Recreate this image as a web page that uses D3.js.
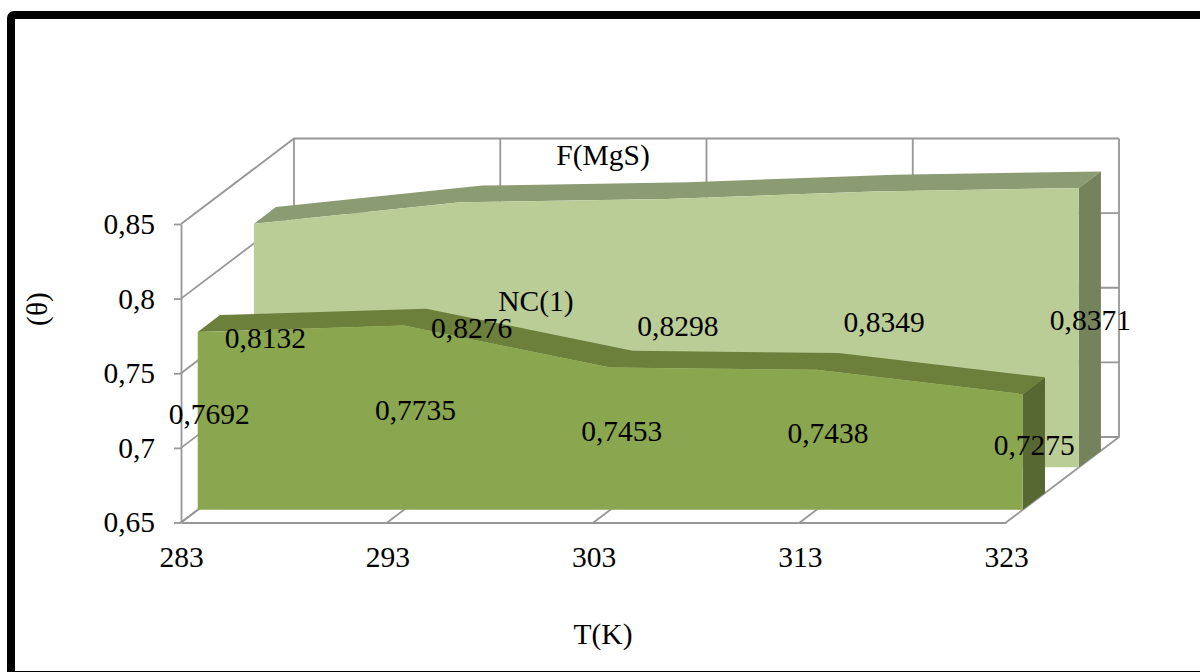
<!DOCTYPE html>
<html>
<head>
<meta charset="utf-8">
<script src="https://d3js.org/d3.v7.min.js"></script>
<style>
html, body { margin: 0; padding: 0; background: #fff; overflow: hidden; }
text { font-family: "Liberation Serif", serif; font-size: 29.5px; fill: #000; }
</style>
</head>
<body>
<div id="chart"></div>
<script>
var categories = [283, 293, 303, 313, 323];
var yTicks = [0.65, 0.7, 0.75, 0.8, 0.85];
var fmgs = [0.8132, 0.8276, 0.8298, 0.8349, 0.8371];
var nc1 = [0.7692, 0.7735, 0.7453, 0.7438, 0.7275];
var seriesNames = ["F(MgS)", "NC(1)"];
var xTitle = "T(K)";
var yTitle = "(θ)";

var w = 1200;
var h = 672;

// front plane of the 3d box, back wall is shifted by depthX / depthY
var x0 = 181;
var y0 = 522.5;
var depthX = 113;
var depthY = -85.5;
var gridColor = "#979797";

var xscale = d3.scalePoint()
    .domain(categories)
    .range([0, 825]);

var yscale = d3.scaleLinear()
    .domain([0.65, 0.85])
    .range([0, 298.5]);

function comma(v) {
    return String(v).replace(".", ",");
}

// category, value and depth (0 front, 1 back) to screen
function project(cat, v, depth) {
    return [x0 + xscale(cat) + depth * depthX, y0 - yscale(v) + depth * depthY];
}

function pts(list) {
    return list.map(function(p) { return p.join(","); }).join(" ");
}

var svg = d3.select("#chart")
    .append("svg")
    .attr("width", w)
    .attr("height", h);

svg.append("rect")
    .attr("x", 11)
    .attr("y", 15)
    .attr("width", 1300)
    .attr("height", 660)
    .attr("rx", 3)
    .attr("fill", "#fff")
    .attr("stroke", "#000")
    .attr("stroke-width", 8);

//////////// WALLS /////////////
var grid = svg.append("g")
    .attr("fill", "none")
    .attr("stroke", gridColor)
    .attr("stroke-width", 1.8);

var lastCat = categories[categories.length - 1];

yTicks.forEach(function(t) {
    grid.append("polyline")
        .attr("points", pts([project(categories[0], t, 0), project(categories[0], t, 1), project(lastCat, t, 1)]));
});

categories.forEach(function(c) {
    grid.append("polyline")
        .attr("points", pts([project(c, 0.65, 0), project(c, 0.65, 1), project(c, 0.85, 1)]));
});

//////////// AXES /////////////
var yaxis = d3.axisLeft(d3.scaleLinear().domain(yscale.domain()).range([y0, y0 - 298.5]))
    .tickValues(yTicks)
    .tickFormat(comma)
    .tickSize(7)
    .tickSizeOuter(0)
    .tickPadding(19);

var xaxis = d3.axisBottom(xscale)
    .tickSize(0)
    .tickSizeOuter(0)
    .tickPadding(24);

function styleAxis(g) {
    g.selectAll("path, line").attr("stroke", gridColor).attr("stroke-width", 1.8);
    g.selectAll("text").attr("font-family", null).attr("font-size", null).style("font-size", "29.5px").style("fill", "#000");
    g.attr("font-family", null).attr("font-size", null);
}

svg.append("g")
    .attr("transform", "translate(" + x0 + ",0)")
    .call(yaxis)
    .call(styleAxis);

svg.append("g")
    .attr("transform", "translate(" + x0 + "," + y0 + ")")
    .call(xaxis)
    .call(styleAxis);

//////////// AREAS /////////////
function drawBand(values, front, back, colors) {
    var g = svg.append("g");
    var topFront = categories.map(function(c, i) { return project(c, values[i], front); });
    var topBack = categories.map(function(c, i) { return project(c, values[i], back); });
    var n = categories.length - 1;

    g.append("polygon")
        .attr("points", pts(topFront.concat(topBack.slice().reverse())))
        .attr("fill", colors.top);

    g.append("polygon")
        .attr("points", pts([topFront[n], topBack[n], project(lastCat, 0.65, back), project(lastCat, 0.65, front)]))
        .attr("fill", colors.side);

    g.append("polygon")
        .attr("points", pts(topFront.concat([project(lastCat, 0.65, front), project(categories[0], 0.65, front)])))
        .attr("fill", colors.front);
}

drawBand(fmgs, 0.645, 0.84, { front: "#bbcd97", top: "#8b9b72", side: "#74835b" });
drawBand(nc1, 0.148, 0.345, { front: "#8aa74f", top: "#6c7f3b", side: "#586833" });

//////////// LABELS /////////////
function drawLabels(values, depth) {
    svg.append("g")
        .selectAll("text")
        .data(values)
        .enter()
        .append("text")
        .text(comma)
        .attr("x", function(d, i) {
            return project(categories[i], d, depth)[0] + 11.5;
        })
        .attr("y", function(d, i) {
            var top = project(categories[i], d, depth)[1];
            var base = project(categories[i], 0.65, depth)[1];
            return (top + base) / 2 - 7;
        })
        .attr("dy", "0.33em")
        .attr("text-anchor", "middle");
}

drawLabels(fmgs, 0.645);
drawLabels(nc1, 0.148);

svg.append("text").text(seriesNames[0]).attr("x", 603).attr("y", 165).attr("text-anchor", "middle");
svg.append("text").text(seriesNames[1]).attr("x", 536).attr("y", 311).attr("text-anchor", "middle");
svg.append("text").text(xTitle).attr("x", 603).attr("y", 644).attr("text-anchor", "middle");
svg.append("text").text(yTitle)
    .attr("text-anchor", "middle")
    .attr("transform", "translate(47,309) rotate(-90)");
</script>
</body>
</html>
